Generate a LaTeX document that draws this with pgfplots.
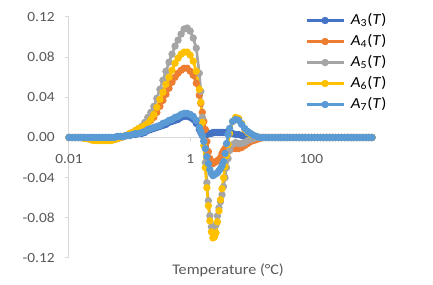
\documentclass[border=0pt]{standalone}
\usepackage{fontspec}
\setmainfont{Carlito}[FakeStretch=1.1]
\usepackage{pgfplots}
\pgfplotsset{compat=1.18}
\usepackage{pgfplotstable}
\definecolor{cA}{HTML}{4472C4}
\definecolor{cB}{HTML}{ED7D31}
\definecolor{cC}{HTML}{A5A5A5}
\definecolor{cD}{HTML}{FFC000}
\definecolor{cE}{HTML}{5B9BD5}
\definecolor{axgrey}{HTML}{D9D9D9}
\definecolor{txtgrey}{HTML}{595959}
\pgfplotstableread{
T a3 a4 a5 a6 a7
0.01000 0 0 0 0 0
0.01122 0 0 0 0 0
0.01259 0 0 0 0 0
0.01413 0 0 0 0 0
0.01585 0 0 0 0 0
0.01778 0 0 0 -0.001 0
0.01995 0 -0.001 -0.001 -0.001 0
0.02239 0 -0.001 -0.002 -0.002 0
0.02512 0 -0.001 -0.002 -0.003 0
0.02818 0 -0.001 -0.002 -0.003 0
0.03162 0 -0.001 -0.002 -0.003 0
0.03548 0 -0.001 -0.002 -0.003 0
0.03981 0 -0.001 -0.002 -0.003 0
0.04467 0 -0.001 -0.002 -0.003 0
0.05012 0 -0.001 -0.002 -0.003 0
0.05623 0.000 -0.001 -0.002 -0.002 0.000
0.06310 0.001 -0.001 -0.001 -0.001 0.001
0.07079 0.001 0.000 0.000 0.000 0.001
0.07943 0.001 0.001 0.001 0.001 0.001
0.08913 0.002 0.002 0.002 0.002 0.002
0.1000 0.002 0.003 0.003 0.004 0.002
0.1122 0.003 0.005 0.005 0.005 0.003
0.1259 0.003 0.006 0.007 0.007 0.004
0.1413 0.004 0.008 0.009 0.009 0.004
0.1585 0.004 0.010 0.011 0.010 0.005
0.1778 0.005 0.012 0.015 0.012 0.006
0.1995 0.007 0.014 0.020 0.014 0.008
0.2239 0.008 0.017 0.025 0.018 0.009
0.2512 0.009 0.020 0.031 0.023 0.010
0.2818 0.010 0.025 0.039 0.030 0.011
0.3162 0.011 0.031 0.048 0.038 0.012
0.3548 0.012 0.037 0.057 0.045 0.014
0.3981 0.013 0.043 0.066 0.053 0.015
0.4467 0.015 0.049 0.075 0.060 0.017
0.5012 0.016 0.055 0.083 0.067 0.018
0.5623 0.017 0.060 0.091 0.074 0.020
0.6310 0.018 0.064 0.097 0.079 0.021
0.7079 0.020 0.067 0.103 0.083 0.023
0.7943 0.021 0.069 0.108 0.085 0.024
0.8913 0.021 0.069 0.109 0.085 0.024
1.000 0.020 0.066 0.106 0.082 0.023
1.122 0.018 0.062 0.099 0.076 0.021
1.259 0.014 0.054 0.089 0.066 0.017
1.413 0.008 0.042 0.064 0.048 0.010
1.496 0.005 0.034 0.046 0.035 0.006
1.585 0.002 0.025 0.020 0.015 0.002
1.679 0.001 0.016 -0.003 -0.008 -0.004
1.778 0.002 0.008 -0.025 -0.030 -0.011
1.884 0.003 -0.004 -0.045 -0.050 -0.019
1.995 0.004 -0.014 -0.063 -0.068 -0.026
2.113 0.004 -0.021 -0.078 -0.083 -0.032
2.239 0.004 -0.025 -0.089 -0.094 -0.036
2.371 0.005 -0.026 -0.095 -0.100 -0.038
2.512 0.005 -0.025 -0.094 -0.099 -0.037
2.661 0.005 -0.024 -0.087 -0.095 -0.036
2.818 0.005 -0.023 -0.078 -0.084 -0.035
2.985 0.005 -0.022 -0.070 -0.073 -0.033
3.162 0.005 -0.020 -0.064 -0.062 -0.031
3.350 0.005 -0.016 -0.057 -0.051 -0.028
3.548 0.005 -0.013 -0.049 -0.040 -0.024
3.758 0.005 -0.011 -0.040 -0.029 -0.016
3.981 0.005 -0.010 -0.030 -0.018 -0.006
4.217 0.004 -0.010 -0.021 -0.007 0.003
4.467 0.004 -0.010 -0.013 0.004 0.009
5.012 0.004 -0.011 -0.007 0.016 0.016
5.623 0.003 -0.011 -0.005 0.020 0.018
6.310 0.003 -0.011 -0.006 0.019 0.017
7.079 0.002 -0.010 -0.006 0.014 0.013
7.943 0.001 -0.008 -0.005 0.008 0.009
8.913 0.000 -0.006 -0.003 0.005 0.006
10.00 0 -0.004 -0.002 0.003 0.004
11.22 0 -0.003 -0.001 0.002 0.002
12.59 0 -0.002 0 0.001 0.001
14.13 0 -0.001 0 0 0
15.85 0 0 0 0 0
17.78 0 0 0 0 0
19.95 0 0 0 0 0
22.39 0 0 0 0 0
25.12 0 0 0 0 0
28.18 0 0 0 0 0
31.62 0 0 0 0 0
35.48 0 0 0 0 0
39.81 0 0 0 0 0
44.67 0 0 0 0 0
50.12 0 0 0 0 0
56.23 0 0 0 0 0
63.10 0 0 0 0 0
70.79 0 0 0 0 0
79.43 0 0 0 0 0
89.13 0 0 0 0 0
100.0 0 0 0 0 0
112.2 0 0 0 0 0
125.9 0 0 0 0 0
141.3 0 0 0 0 0
158.5 0 0 0 0 0
177.8 0 0 0 0 0
199.5 0 0 0 0 0
223.9 0 0 0 0 0
251.2 0 0 0 0 0
281.8 0 0 0 0 0
316.2 0 0 0 0 0
354.8 0 0 0 0 0
398.1 0 0 0 0 0
446.7 0 0 0 0 0
501.2 0 0 0 0 0
562.3 0 0 0 0 0
631.0 0 0 0 0 0
707.9 0 0 0 0 0
794.3 0 0 0 0 0
891.3 0 0 0 0 0
1000 0 0 0 0 0
}\data
\begin{document}
\begin{tikzpicture}
\path[use as bounding box] (-51.75pt,-20.25pt) rectangle (273pt,193.5pt);
\begin{axis}[
  at={(0pt,0pt)}, anchor=south west,
  scale only axis, width=227.25pt, height=180.75pt,
  xmode=log, xmin=0.01, xmax=1000, ymin=-0.12, ymax=0.12,
  axis x line=middle, axis y line=left,
  hide obscured x ticks=false, hide obscured y ticks=false,
  axis line style={draw=axgrey, line width=0.75pt, -},
  xtick={0.01,1,100}, xticklabels={0.01,1,100},
  xminorticks=false, yminorticks=false,
  ytick={-0.12,-0.08,-0.04,0,0.04,0.08,0.12},
  tick align=outside, major tick length=3pt,
  tick style={draw=axgrey, line width=0.75pt},
  yticklabel style={/pgf/number format/.cd, fixed, fixed zerofill, precision=2, assume math mode=true, /tikz/.cd,
    font=\fontsize{10.5}{12}\selectfont, text=txtgrey, inner xsep=0pt, xshift=-7.5pt},
  xticklabel style={font=\fontsize{10.5}{12}\selectfont, text=txtgrey, anchor=north, inner ysep=0pt, yshift=-9.75pt},
  xlabel={Temperature (°C)},
  xlabel style={at={(axis description cs:0.525,0)}, anchor=base, yshift=-12.75pt,
    font=\fontsize{11}{13}\selectfont, text=txtgrey},
  legend style={at={(axis description cs:0.7789,1.03)}, anchor=north west, draw=none, fill=none,
    font=\fontsize{11.5}{13}\selectfont, column sep=4.5pt, inner sep=0pt,
    nodes={inner xsep=0pt, inner ysep=0pt, text height=10.5pt, text depth=5.25pt}},
  legend cell align=left,
  legend image code/.code={\draw[mark repeat=2, mark phase=2] plot coordinates {(0pt,0pt) (13.875pt,0pt) (27.75pt,0pt)};},
  every axis plot/.append style={line width=2pt, mark=*, mark size=1.7pt},
  clip=false,
]
\addplot[color=cA, mark options={fill=cA, draw=cA}] table[x=T, y=a3] {\data};
\addlegendentry{\textit{A}\textsubscript{3}(\textit{T})}
\addplot[color=cB, mark options={fill=cB, draw=cB}] table[x=T, y=a4] {\data};
\addlegendentry{\textit{A}\textsubscript{4}(\textit{T})}
\addplot[color=cC, mark options={fill=cC, draw=cC}] table[x=T, y=a5] {\data};
\addlegendentry{\textit{A}\textsubscript{5}(\textit{T})}
\addplot[color=cD, mark options={fill=cD, draw=cD}] table[x=T, y=a6] {\data};
\addlegendentry{\textit{A}\textsubscript{6}(\textit{T})}
\addplot[color=cE, mark options={fill=cE, draw=cE}] table[x=T, y=a7] {\data};
\addlegendentry{\textit{A}\textsubscript{7}(\textit{T})}
\end{axis}
\end{tikzpicture}
\end{document}
